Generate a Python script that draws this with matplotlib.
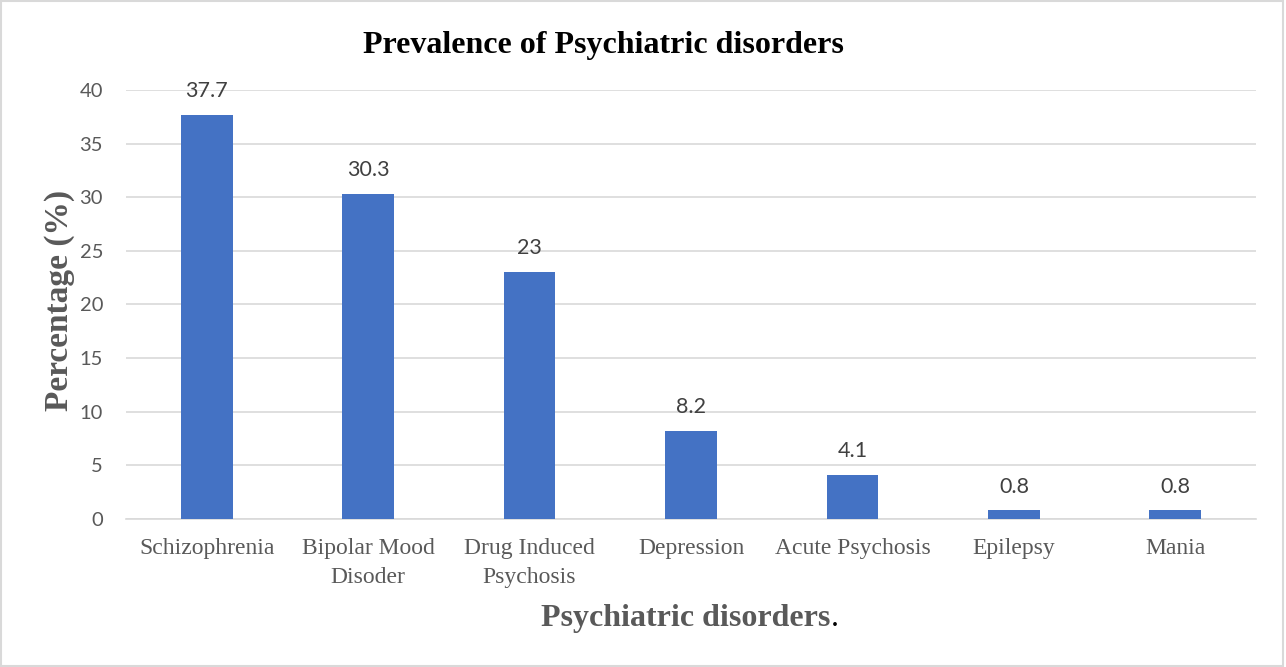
import matplotlib.pyplot as plt
import numpy as np
from matplotlib.patches import Rectangle

# Prevalence data
disorders = ['Schizophrenia', 'Bipolar Mood\nDisoder', 'Drug Induced\nPsychosis',
             'Depression', 'Acute Psychosis', 'Epilepsy', 'Mania']
prevalence = [37.7, 30.3, 23, 8.2, 4.1, 0.8, 0.8]
value_labels = ['37.7', '30.3', '23', '8.2', '4.1', '0.8', '0.8']
yticks = [0, 5, 10, 15, 20, 25, 30, 35, 40]

serif = ['Liberation Serif', 'DejaVu Serif']
sans = ['Lato', 'DejaVu Sans']

fig = plt.figure(figsize=(12.86, 6.67), dpi=100)
ax = fig.add_axes([0.098, 0.2219, 0.8787, 0.6432])

x = np.arange(len(disorders))
ax.bar(x, prevalence, width=0.32, color='#4472C4', zorder=3)

for xi, v, lab in zip(x, prevalence, value_labels):
    ax.annotate(lab, (xi, v), xytext=(0, 10), textcoords='offset points',
                ha='center', va='bottom', fontsize=15.5, family=sans, color='#404040')

ax.set_xlim(-0.5, len(disorders) - 0.5)
ax.set_ylim(0, 40)
ax.set_yticks(yticks)
ax.set_yticklabels([str(t) for t in yticks], family=sans, fontsize=14.5, color='#595959')
ax.set_xticks(x)
ax.set_xticklabels(disorders, family=serif, fontsize=17, color='#595959', linespacing=1.45)
ax.tick_params(axis='both', length=0)
ax.tick_params(axis='y', pad=16.5)
ax.tick_params(axis='x', pad=14)

ax.grid(axis='y', color='#D9D9D9', linewidth=1.2, zorder=0)
for side in ['top', 'right', 'left']:
    ax.spines[side].set_visible(False)
ax.spines['bottom'].set_color('#D9D9D9')
ax.spines['bottom'].set_linewidth(1.2)

ax.set_ylabel('Percentage (%)', family=serif, fontsize=24, fontweight='bold',
              color='#595959')
ax.yaxis.set_label_coords(-0.045, 0.51)

fig.text(0.469, 0.932, 'Prevalence of Psychiatric disorders', ha='center', va='center',
         family=serif, fontsize=23, fontweight='bold', color='black')

xl = fig.text(0.5335, 0.073, 'Psychiatric disorders', ha='center', va='center',
              family=serif, fontsize=23, fontweight='bold', color='#595959')
ax.annotate('.', xy=(1, 0), xycoords=xl, xytext=(0, 0), textcoords='offset points',
            ha='left', va='bottom', family=serif, fontsize=23, color='black',
            annotation_clip=False)

# light frame around the chart area
fig.patches.append(Rectangle((0.001, 0.002), 0.997, 0.996, transform=fig.transFigure,
                             fill=False, edgecolor='#D9D9D9', linewidth=1.5))

fig.savefig('out.png', dpi=100)
